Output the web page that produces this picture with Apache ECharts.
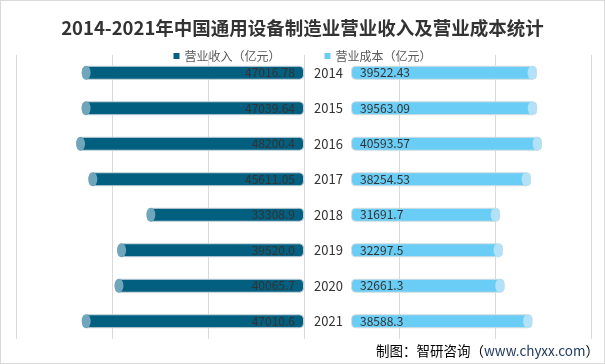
<!DOCTYPE html>
<html>
<head>
<meta charset="utf-8">
<script src="https://cdn.jsdelivr.net/npm/echarts@6/dist/echarts.min.js"></script>
<style>
html,body{margin:0;padding:0;background:#fff;}
#c{width:605px;height:364px;box-sizing:border-box;border:1px solid #d9d9d9;}
</style>
</head>
<body>
<div id="c"></div>
<script>
const years = ['2014','2015','2016','2017','2018','2019','2020','2021'];
const revenue = ['47016.78','47039.64','48200.4','45611.05','33308.9','39520.0','40065.7','47010.6'];
const cost = ['39522.43','39563.09','40593.57','38254.53','31691.7','32297.5','32661.3','38588.3'];
const gridTicks = [0, 20000, 40000, 60000];

const FONT = '"Noto Sans CJK SC", "Microsoft YaHei", sans-serif';
const chart = echarts.init(document.getElementById('c'), null, {renderer:'canvas'});

const option = {
  animation: false,
  textStyle: {fontFamily: FONT},
  title: {
    text: '2014-2021年中国通用设备制造业营业收入及营业成本统计',
    left: 'center', top: 13,
    textStyle: {fontSize: 18.5, fontWeight: 'bold', color: '#333', fontFamily: FONT}
  },
  legend: {
    top: 44, left: 'center',
    itemWidth: 6, itemHeight: 6, itemGap: 44,
    icon: 'rect',
    itemStyle: {borderWidth: 0},
    textStyle: {fontSize: 12, color: '#595959', fontFamily: FONT},
    data: [
      {name: '营业收入（亿元）', itemStyle: {color: '#035f80', borderWidth: 0}},
      {name: '营业成本（亿元）', itemStyle: {color: '#69cdf5', borderWidth: 0}}
    ]
  },
  graphic: [{
    type: 'text', right: 5, top: 343,
    style: {
      text: '{a|制图：智研咨询（}{b|www.chyxx.com}{a|）}',
      rich: {
        a: {fontSize: 13.5, fill: '#000', fontFamily: FONT},
        b: {fontSize: 13.5, fill: '#1f3a60', fontFamily: FONT}
      }
    }
  }],
  grid: [
    {left: 15, width: 288, top: 54, height: 284},
    {left: 303, width: 287, top: 54, height: 284}
  ],
  xAxis: [
    {gridIndex: 0, type: 'value', inverse: true, min: 0, max: 61000, show: false, splitLine: {show: false}},
    {gridIndex: 1, type: 'value', min: -10000, max: 51000, show: false, splitLine: {show: false}},
    {gridIndex: 0, type: 'value', inverse: true, min: gridTicks[0], max: gridTicks[gridTicks.length-1], interval: 20000,
      axisLine: {show: false}, axisTick: {show: false}, axisLabel: {show: false},
      splitLine: {show: true, lineStyle: {color: '#d9d9d9', width: 1}}},
    {gridIndex: 1, type: 'value', min: gridTicks[0], max: gridTicks[gridTicks.length-1], interval: 20000,
      axisLine: {show: false}, axisTick: {show: false}, axisLabel: {show: false},
      splitLine: {show: true, lineStyle: {color: '#d9d9d9', width: 1}}}
  ],
  yAxis: [
    {gridIndex: 0, type: 'category', data: years, inverse: true, position: 'right',
      axisLine: {show: false}, axisTick: {show: false},
      axisLabel: {margin: 10, fontSize: 13, color: '#333', fontFamily: FONT}},
    {gridIndex: 1, type: 'category', data: years, inverse: true, show: false}
  ],
  series: [
    {
      name: '营业收入（亿元）', type: 'bar', xAxisIndex: 0, yAxisIndex: 0,
      data: revenue, barWidth: 14, z: 2,
      itemStyle: {color: '#035f80', borderColor: '#c5d3da', borderWidth: 1, borderRadius: 4},
      label: {show: true, position: 'insideRight', distance: 9, fontSize: 12, color: '#333',
        fontFamily: FONT, formatter: p => revenue[p.dataIndex]}
    },
    {
      name: '营业收入（亿元）', type: 'pictorialBar', xAxisIndex: 0, yAxisIndex: 0,
      data: revenue, symbol: 'circle', symbolSize: [9, 14], symbolPosition: 'end', z: 3,
      itemStyle: {color: '#70a6bb', borderColor: '#dfe8ec', borderWidth: 1},
      tooltip: {show: false}
    },
    {
      name: '营业成本（亿元）', type: 'bar', xAxisIndex: 1, yAxisIndex: 1,
      data: cost, barWidth: 14, z: 2,
      itemStyle: {color: '#69cdf5', borderColor: '#d5dde0', borderWidth: 1, borderRadius: 4},
      label: {show: true, position: 'insideLeft', distance: 9, fontSize: 12, color: '#333',
        fontFamily: FONT, formatter: p => cost[p.dataIndex]}
    },
    {
      name: '营业成本（亿元）', type: 'pictorialBar', xAxisIndex: 1, yAxisIndex: 1,
      data: cost, symbol: 'circle', symbolSize: [9, 14], symbolPosition: 'end', z: 3,
      itemStyle: {color: '#b3e1f7', borderColor: '#e3f3fb', borderWidth: 1},
      tooltip: {show: false}
    }
  ]
};
chart.setOption(option);
</script>
</body>
</html>
